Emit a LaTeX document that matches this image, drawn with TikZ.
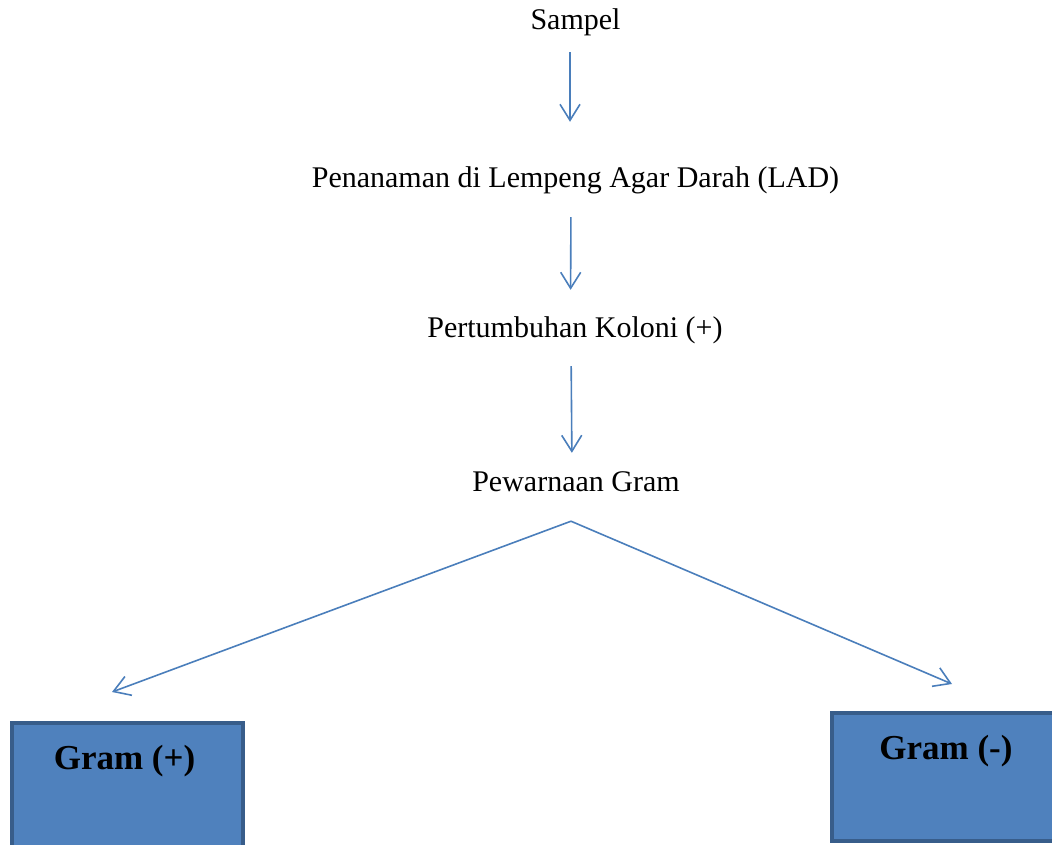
\documentclass[tikz,border=0pt]{standalone}
\usepackage{fontspec}
\setmainfont{Liberation Serif}
\usetikzlibrary{arrows.meta}
\usetikzlibrary{calc,positioning}

\definecolor{arrowblue}{HTML}{4A7EBB}
\definecolor{boxfill}{HTML}{4F81BD}
\definecolor{boxedge}{HTML}{385D8A}

\begin{document}
\begin{tikzpicture}[x=1pt, y=1pt, >={Straight Barb[length=16pt, width=20pt]},
 step text/.style={inner sep=0pt, font=\fontsize{30}{36}\selectfont, text height=21pt, text depth=7pt},
 flow arrow/.style={->, draw=arrowblue, line width=1.6pt},
 result box/.style={draw=boxedge, fill=boxfill, line width=4pt, minimum width=231pt,
   minimum height=128pt, inner sep=0pt, anchor=north west,
   font=\fontsize{35}{40}\selectfont\bfseries, text height=24pt, text depth=60pt}]

    \useasboundingbox (0,0) rectangle (1052,-844);
    \clip (0,0) rectangle (1052,-844);

    \node[step text] (sampel) at (575.5,-22) {Sampel};
    \node[step text] (lad) at (575.5,-180) {Penanaman di Lempeng Agar Darah (LAD)};
    \node[step text] (koloni) at (575,-330) {Pertumbuhan Koloni (+)};
    \node[step text] (gram) at (576,-484) {Pewarnaan Gram};

    \node[result box] (gpos) at (10,-721) {\hspace*{-6pt}Gram (+)};
    \node[result box, minimum width=300pt] (gneg) at (830,-711) {\hspace*{-72pt}Gram (-)};

    \coordinate (tipL) at (112,-692);
    \coordinate (tipR) at (952,-684);

    \draw[flow arrow, shorten <=16pt, shorten >=44pt] ([xshift=-5.5pt]sampel.south) -- ([xshift=-5.5pt]lad.north);
    \draw[flow arrow, shorten <=23pt, shorten >=26pt] ([xshift=-4.5pt]lad.south) -- ([xshift=-4.5pt]koloni.north);
    \draw[flow arrow, shorten <=22pt, shorten >=17pt] ([xshift=-4pt]koloni.south) -- ([xshift=-4pt]gram.north);

    \draw[flow arrow] ([shift={(-5pt,-23pt)}]gram.south) -- (tipL);
    \draw[flow arrow] ([shift={(-5pt,-23pt)}]gram.south) -- (tipR);

\end{tikzpicture}
\end{document}
